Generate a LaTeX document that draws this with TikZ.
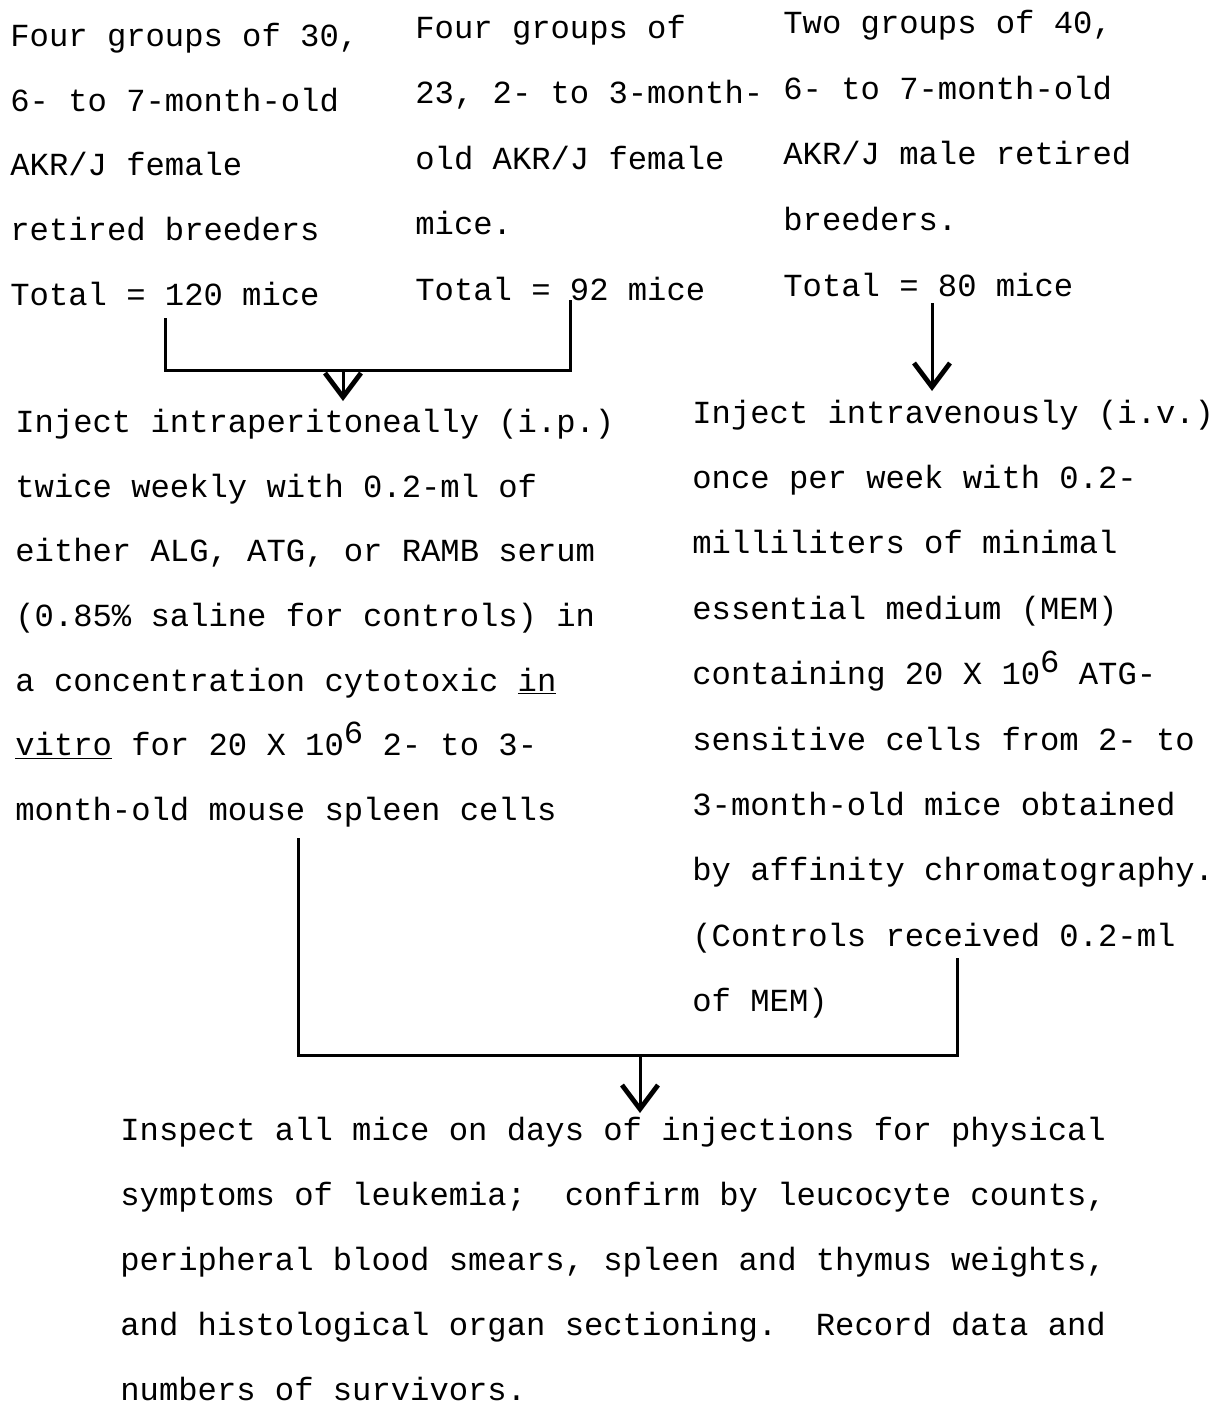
\documentclass[tikz,border=0pt]{standalone}
\usepackage{fontspec}
\newfontfamily\typer{Liberation Mono}
\usetikzlibrary{arrows.meta}
\begin{document}
\begin{tikzpicture}[x=0.5pt,y=-0.5pt,
  txt/.style={anchor=north west,inner sep=0pt,align=left,font=\typer\fontsize{16.1}{#1}\selectfont\frenchspacing},
  txt/.default=32.5pt,
  link/.style={line width=1.5pt},
  arr/.style={line width=1.5pt,-{Straight Barb[length=12pt,width=18pt,line width=2.4pt]}}]

  \useasboundingbox (0,0) rectangle (1217,1404);

  \node[txt=32.3pt] (grpA) at (10,1) {\strut Four groups of 30,\\6- to 7-month-old\\AKR/J female\\retired breeders\\Total = 120 mice};
  \node[txt=32.75pt] (grpB) at (415,-8) {\strut Four groups of\\23, 2- to 3-month-\\old AKR/J female\\mice.\\Total = 92 mice};
  \node[txt=32.85pt] (grpC) at (783,-13) {\strut Two groups of 40,\\6- to 7-month-old\\AKR/J male retired\\breeders.\\Total = 80 mice};

  \node[txt=32.3pt] (ip) at (15,387) {\strut Inject intraperitoneally (i.p.)\\twice weekly with 0.2-ml of\\either ALG, ATG, or RAMB serum\\(0.85\% saline for controls) in\\a concentration cytotoxic \underline{in}\\\underline{vitro} for 20 X 10\raisebox{0.7ex}{6} 2- to 3-\\month-old mouse spleen cells};
  \node[txt=32.7pt] (iv) at (692,377) {\strut Inject intravenously (i.v.)\\once per week with 0.2-\\milliliters of minimal\\essential medium (MEM)\\containing 20 X 10\raisebox{0.7ex}{6} ATG-\\sensitive cells from 2- to\\3-month-old mice obtained\\by affinity chromatography.\\(Controls received 0.2-ml\\of MEM)};

  \node[txt] (insp) at (120,1095) {\strut Inspect all mice on days of injections for physical\\symptoms of leukemia;\ \ confirm by leucocyte counts,\\peripheral blood smears, spleen and thymus weights,\\and histological organ sectioning.\ \ Record data and\\numbers of survivors.};

  \coordinate (aEnd) at (165,318); \coordinate (bEnd) at (570,300); \coordinate (abJoin) at (343,370); \coordinate (ipTop) at (343,401);
  \coordinate (cEnd) at (932,303); \coordinate (ivTop) at (932,391);
  \coordinate (ipEnd) at (298,838); \coordinate (ivEnd) at (957,958); \coordinate (botJoin) at (640,1055); \coordinate (inspTop) at (640,1113);

  \draw[link] (aEnd) |- (bEnd |- abJoin) -- (bEnd);
  \draw[arr] (abJoin) -- (ipTop);
  \draw[arr] (cEnd) -- (ivTop);
  \draw[link] (ipEnd) |- (ivEnd |- botJoin) -- (ivEnd);
  \draw[arr] (botJoin) -- (inspTop);

\end{tikzpicture}
\end{document}
